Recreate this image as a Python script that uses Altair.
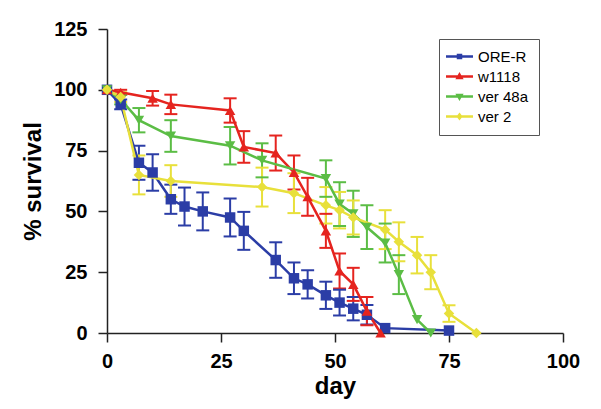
import altair as alt
import pandas as pd

strains = ["ORE-R", "w1118", "ver 48a", "ver 2"]
colors = ["#2b3da6", "#e5241f", "#5bbd45", "#e8e03b"]
marker_shapes = ["square", "triangle-up", "triangle-down", "diamond"]
legend_shapes = [
    "M-2.7,0H2.7M-0.3,-0.3H0.3V0.3H-0.3Z",
    "M-2.7,0H2.7M0,-0.4L0.4,0.3H-0.4Z",
    "M-2.7,0H2.7M0,0.4L0.4,-0.3H-0.4Z",
    "M-2.7,0H2.7M0,-0.4L0.3,0L0,0.4L-0.3,0Z",
]

ore_day = [0, 3, 7, 10, 14, 17, 21, 27, 30, 37, 41, 44, 48, 51, 54, 57, 61, 75]
ore_surv = [100, 94, 70, 66, 55, 52, 50, 47.5, 42, 30, 22.5, 20, 15.5, 12.5, 10, 7.5, 2, 1]
ore_err = [0, 2, 7, 7.5, 6, 7.8, 7.8, 7.8, 7.8, 7.3, 6.5, 5.8, 5.6, 5.3, 4.8, 4, 0, 0]

w_day = [0, 3, 10, 14, 27, 30, 37, 41, 44, 48, 51, 54, 57, 60]
w_surv = [100, 99, 96.5, 94, 91.5, 76.5, 74, 66, 56, 42, 25.5, 20, 9, 0]
w_err = [0, 1, 3, 4, 5, 6.5, 7.2, 7, 7.8, 7, 7.2, 6.8, 5.8, 0]

v48_day = [0, 3, 7, 14, 27, 34, 48, 51, 54, 57, 61, 64, 68, 71]
v48_surv = [100, 96, 87.5, 81, 77, 71, 63.5, 53, 49, 43.5, 37, 24, 5.5, 0]
v48_err = [0, 2, 5, 6.5, 7.7, 7, 7.5, 9, 9.5, 9, 8, 8, 0, 0]

v2_day = [0, 3, 7, 14, 34, 41, 48, 51, 54, 61, 64, 68, 71, 75, 81]
v2_surv = [100, 97, 65, 62.5, 60, 57.5, 52.5, 50.5, 47.5, 42.5, 37.5, 32, 25, 8, 0]
v2_err = [0, 2, 8, 6.5, 8, 8.2, 7.5, 7.5, 7, 8, 8, 7.5, 7, 3.4, 0]

series = [
    ("ORE-R", ore_day, ore_surv, ore_err),
    ("w1118", w_day, w_surv, w_err),
    ("ver 48a", v48_day, v48_surv, v48_err),
    ("ver 2", v2_day, v2_surv, v2_err),
]
rows = []
for name, days, surv, err in series:
    for d, s, e in zip(days, surv, err):
        rows.append({"strain": name, "day": d, "surv": s, "err": e, "lo": s - e, "hi": s + e})
df = pd.DataFrame(rows)

FONT = "Liberation Sans"

xscale = alt.Scale(domain=[0, 100], nice=False, zero=False)
yscale = alt.Scale(domain=[0, 125], nice=False)
xaxis = alt.Axis(values=[0, 25, 50, 75, 100], title="day", labelFlush=False)
yaxis = alt.Axis(values=[0, 25, 50, 75, 100, 125], title="% survival")

leg = alt.Legend(
    title=None,
    orient="none",
    legendX=332,
    legendY=10,
    strokeColor="#555555",
    fillColor="white",
    padding=10,
    symbolSize=100,
    symbolStrokeWidth=2.5,
    symbolOffset=3,
    labelOffset=11,
    labelFont=FONT,
    labelFontSize=15,
    labelColor="black",
    rowPadding=4,
    symbolOpacity=1,
)

X = alt.X("day:Q", scale=xscale, axis=xaxis)
cscale = alt.Scale(domain=strains, range=colors)
color = alt.Color("strain:N", scale=cscale, legend=leg)

base = alt.Chart(df)

legend_layer = base.transform_filter("datum.day < 0").mark_point(
    filled=False, opacity=1, strokeWidth=2.5
).encode(
    x=X,
    y=alt.Y("surv:Q", scale=yscale, axis=yaxis),
    color=color,
    shape=alt.Shape("strain:N", scale=alt.Scale(domain=strains, range=legend_shapes), legend=leg),
)

bars = base.transform_filter("datum.err > 0").mark_rule(strokeWidth=2).encode(
    x=X, y=alt.Y("lo:Q", scale=yscale, axis=yaxis), y2="hi:Q", color=color
)
cap_lo = base.transform_filter("datum.err > 0").mark_tick(
    orient="horizontal", size=13, thickness=2, opacity=1
).encode(x=X, y=alt.Y("lo:Q", scale=yscale, axis=yaxis), color=color)
cap_hi = base.transform_filter("datum.err > 0").mark_tick(
    orient="horizontal", size=13, thickness=2, opacity=1
).encode(x=X, y=alt.Y("hi:Q", scale=yscale, axis=yaxis), color=color)

lines = base.mark_line(strokeWidth=2.5).encode(
    x=X, y=alt.Y("surv:Q", scale=yscale, axis=yaxis), color=color, order="day:Q"
)

point_layers = []
for name, shp in zip(strains, marker_shapes):
    point_layers.append(
        base.transform_filter(alt.datum.strain == name)
        .mark_point(filled=True, opacity=1, size=110, shape=shp)
        .encode(x=X, y=alt.Y("surv:Q", scale=yscale, axis=yaxis), color=color)
    )

chart = (
    alt.layer(legend_layer, bars, cap_lo, cap_hi, lines, *point_layers)
    .properties(
        width=456,
        height=304,
        padding={"left": 99, "top": 21, "right": 30, "bottom": 68},
        autosize=alt.AutoSizeParams(type="none"),
    )
    .configure_view(stroke=None)
    .configure_axis(
        grid=False,
        domainColor="#222222",
        domainWidth=1.5,
        tickColor="#222222",
        tickWidth=1.5,
        tickSize=9,
        labelFont=FONT,
        labelFontSize=20,
        labelFontWeight="bold",
        labelColor="black",
        labelPadding=9,
        titleFont=FONT,
        titleFontSize=24,
        titleFontWeight="bold",
        titleColor="black",
    )
    .configure_axisX(titlePadding=3)
    .configure_axisY(titlePadding=8, labelPadding=11)
)

chart.save("out.html", embed_options={"renderer": "svg", "actions": False})
